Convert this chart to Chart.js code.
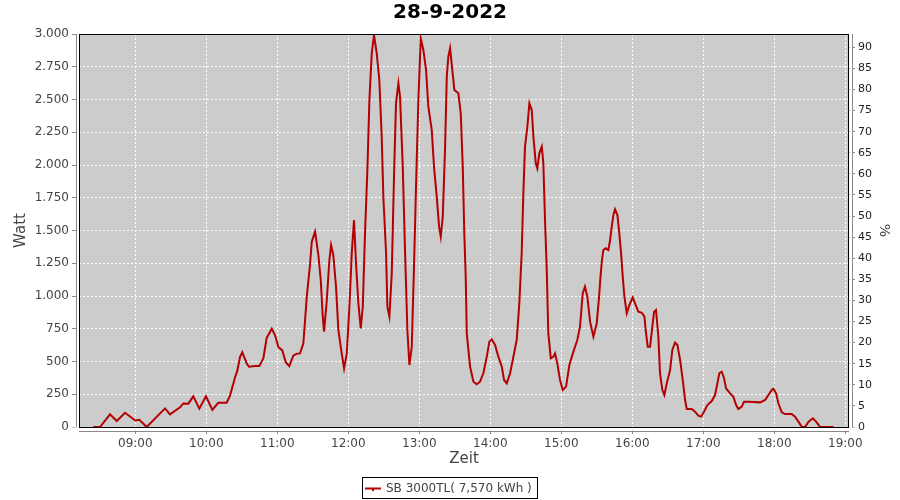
<!DOCTYPE html>
<html>
<head>
<meta charset="utf-8">
<script src="https://cdn.jsdelivr.net/npm/chart.js@4.4.1/dist/chart.umd.min.js"></script>
<style>
  html, body { margin: 0; padding: 0; background: #fff; }
  #wrap { width: 900px; height: 500px; }
</style>
</head>
<body>
<div id="wrap"><canvas id="myChart" width="900" height="500"></canvas></div>
<script>
// Daten: Uhrzeit (Minuten seit Mitternacht) und Leistung in Watt
var chartTitle = '28-9-2022';
var seriesName = 'SB 3000TL( 7,570 kWh )';

var minutes = [
  504.5, 510.2, 518.6, 524.3, 531.3, 540, 543.4, 549.6, 565.1, 569.3,
  577.8, 580.6, 584.8, 589, 594.1, 599.7, 605.1, 610.1, 617.2, 620,
  624.3, 626.2, 628.5, 630.4, 634.1, 636.1, 641.2, 644.8, 648.2, 651,
  655.3, 658.1, 660.9, 664.2, 667.1, 670.1, 673.5, 676.4, 679.2, 682,
  684.9, 687.6, 689.1, 691.9, 694.7, 696.7, 698.4, 699.5, 701.8, 704,
  705.4, 707.3, 709.6, 711.6, 714.4, 716.4, 718.7, 720.9, 722.9, 724.8,
  726.5, 728.5, 730.5, 732.2, 734.1, 736.1, 737.8, 739.8, 741.7, 744,
  746.2, 748.2, 749.6, 751.9, 753, 754.7, 756.7, 758.6, 760.3, 762.3,
  763.7, 766, 767.9, 769.9, 771.6, 773.6, 775.5, 777.2, 779.2, 781.2,
  783.4, 785.7, 787.6, 790.5, 792.4, 794.7, 796.7, 798.1, 799.8, 801.7,
  803.2, 804.5, 806, 807.9, 809.6, 813, 815, 816.7, 818, 819.2,
  820.1, 822.9, 825.7, 828.5, 831.3, 834.1, 837, 839.2, 841.2, 844,
  846.8, 849.7, 851.6, 853.9, 856.7, 859.5, 862.3, 864.5, 866.5, 867.9,
  869.3, 871.3, 873, 875, 876.4, 878.4, 879.7, 881.4, 883.5, 884.8,
  886.2, 887.7, 889, 891.1, 893.3, 894.7, 896.6, 898.9, 901.2, 904,
  906.8, 910.2, 913.5, 915.8, 918.1, 920, 922, 924.3, 927.1, 929.9,
  931.9, 933, 934.2, 935.5, 937.5, 939.7, 941.2, 942.6, 944, 945.4,
  947.4, 949, 950.5, 951.9, 953.3, 955.3, 957.5, 960.3, 962.3, 965.1,
  968, 970.2, 971.3, 973, 975, 976.9, 978.4, 980, 982, 983.4,
  985.4, 987.1, 989.1, 991.9, 993.8, 996.1, 998.1, 1000.4, 1002.6, 1004.6,
  1006, 1010.2, 1013, 1015.8, 1018.1, 1020.6, 1023.4, 1027.1, 1029.9, 1031.9,
  1033.5, 1035.5, 1037.5, 1039.2, 1042.6, 1045.4, 1047.7, 1049.6, 1052.5, 1054.4,
  1058.1, 1068, 1072.2, 1075, 1077.8, 1079.2, 1081.5, 1083.4, 1086.3, 1089.1,
  1094.7, 1097.5, 1100.3, 1103.2, 1106, 1108.8, 1112.5, 1115.3, 1118.7, 1130
];

var watts = [
  0, 0, 97, 46, 109, 50, 55, 0, 142, 97,
  150, 180, 178, 234, 140, 234, 130, 185, 185, 240,
  380, 430, 535, 570, 485, 460, 465, 465, 525, 680,
  750, 700, 610, 585, 495, 465, 545, 560, 562, 639,
  995, 1237, 1415, 1491, 1313, 1122, 842, 728, 969, 1275,
  1389, 1313, 1071, 740, 562, 447, 562, 918, 1326, 1580,
  1250, 944, 753, 918, 1478, 1962, 2496, 2852, 2992, 2852,
  2649, 2216, 1758, 1326, 918, 842, 1173, 1911, 2471, 2624,
  2522, 1987, 1351, 740, 473, 613, 1224, 1834, 2496, 2967,
  2878, 2725, 2445, 2267, 1987, 1758, 1529, 1453, 1605, 2115,
  2674, 2827, 2891, 2725, 2573, 2547, 2395, 1987, 1478, 1147,
  715, 460, 346, 326, 346, 410, 537, 651, 669, 626,
  537, 460, 359, 333, 410, 537, 664, 944, 1326, 1784,
  2140, 2292, 2471, 2420, 2216, 2013, 1975, 2089, 2140, 2013,
  1580, 1198, 715, 524, 537, 562, 486, 359, 282, 308,
  473, 575, 664, 766, 1021, 1071, 995, 804, 689, 790,
  995, 1135, 1262, 1351, 1364, 1351, 1427, 1529, 1618, 1662,
  1618, 1478, 1326, 1147, 995, 868, 931, 990, 944, 880,
  872, 842, 740, 613, 613, 766, 880, 893, 689, 410,
  282, 244, 333, 435, 588, 644, 626, 511, 359, 206,
  137, 137, 117, 86, 79, 117, 168, 198, 244, 333,
  410, 422, 372, 295, 257, 231, 168, 137, 155, 193,
  193, 188, 206, 244, 282, 292, 257, 181, 112, 99,
  99, 79, 41, 2, 0, 38, 66, 41, 0, 0
];

// Achsenbeschriftungen
var xTickLabels = ['09:00', '10:00', '11:00', '12:00', '13:00', '14:00', '15:00', '16:00', '17:00', '18:00', '19:00'];
var wattTicks = [0, 250, 500, 750, 1000, 1250, 1500, 1750, 2000, 2250, 2500, 2750, 3000];
var wattTickLabels = ['0', '250', '500', '750', '1.000', '1.250', '1.500', '1.750', '2.000', '2.250', '2.500', '2.750', '3.000'];
var percentTicks = [0, 5, 10, 15, 20, 25, 30, 35, 40, 45, 50, 55, 60, 65, 70, 75, 80, 85, 90];

var xTickMinutes = xTickLabels.map(function (s) {
  var p = s.split(':');
  return parseInt(p[0], 10) * 60 + parseInt(p[1], 10);
});

var points = minutes.map(function (m, i) { return { x: m, y: watts[i] }; });

Chart.defaults.font.family = "'DejaVu Sans', sans-serif";
Chart.defaults.font.size = 12;

// Hintergrund der Zeichenfläche
var plotBackground = {
  id: 'plotBackground',
  beforeDraw: function (chart) {
    var c = chart.ctx, a = chart.chartArea;
    c.save();
    c.fillStyle = '#ffffff';
    c.fillRect(0, 0, chart.width, chart.height);
    c.fillStyle = '#cccccc';
    c.fillRect(a.left, a.top, a.right - a.left, a.bottom - a.top);
    c.restore();
  }
};

// Rahmen, abgesetzte Achsenlinien und Legende
var frameAndLegend = {
  id: 'frameAndLegend',
  afterDraw: function (chart) {
    var c = chart.ctx, a = chart.chartArea;
    c.save();
    // Lücke zwischen Achsenlinie und Rahmen
    c.fillStyle = '#ffffff';
    c.fillRect(a.left - 3, a.top - 8, 3, a.bottom - a.top + 16);
    c.fillRect(a.right + 0.5, a.top - 8, 2.5, a.bottom - a.top + 16);
    c.fillRect(a.left - 8, a.bottom + 0.5, a.right - a.left + 16, 3);
    // Achsenlinien
    c.strokeStyle = '#888888';
    c.lineWidth = 1;
    c.beginPath();
    c.moveTo(a.left - 2.5, a.top); c.lineTo(a.left - 2.5, a.bottom);
    c.moveTo(a.right + 3.5, a.top); c.lineTo(a.right + 3.5, a.bottom);
    c.moveTo(a.left, a.bottom + 4.5); c.lineTo(a.right, a.bottom + 4.5);
    c.stroke();
    // Rahmen
    c.strokeStyle = '#000000';
    c.strokeRect(a.left + 0.5, a.top + 0.5, a.right - a.left - 1, a.bottom - a.top);
    // Legende
    c.strokeRect(362.5, 477.5, 175, 21);
    c.strokeStyle = 'rgb(180,0,0)';
    c.lineWidth = 2;
    c.beginPath();
    c.moveTo(365, 488.5); c.lineTo(381, 488.5);
    c.stroke();
    c.fillStyle = 'rgb(180,0,0)';
    c.fillRect(372, 488, 2, 3);
    c.fillStyle = '#444444';
    c.font = "12px 'DejaVu Sans', sans-serif";
    c.textBaseline = 'middle';
    c.textAlign = 'left';
    c.fillText(seriesName, 386, 488.5);
    c.restore();
  }
};

var ctx = document.getElementById('myChart');
var myChart = new Chart(ctx, {
  type: 'line',
  data: {
    datasets: [{
      label: seriesName,
      data: points,
      borderColor: 'rgb(180,0,0)',
      borderWidth: 2,
      pointRadius: 0,
      tension: 0,
      fill: false,
      yAxisID: 'y'
    }]
  },
  options: {
    responsive: false,
    animation: false,
    layout: { padding: { left: 0, right: 0, top: 0, bottom: 30 } },
    plugins: {
      legend: { display: false },
      tooltip: { enabled: false },
      title: {
        display: true,
        text: chartTitle,
        color: '#000',
        font: { size: 20, weight: 'bold' },
        padding: { top: 1, bottom: 9 }
      }
    },
    scales: {
      x: {
        type: 'linear',
        min: 492.4,
        max: 1143.1,
        afterBuildTicks: function (s) { s.ticks = xTickMinutes.map(function (v) { return { value: v }; }); },
        afterFit: function (s) { s.height = 43; },
        ticks: {
          autoSkip: false, maxRotation: 0, padding: 3, color: '#444',
          callback: function (v, i) { return xTickLabels[i]; }
        },
        grid: { color: '#ffffff', lineWidth: 1, tickColor: '#888', tickLength: 7 },
        border: { display: false, dash: [2, 2] },
        title: { display: true, text: 'Zeit', color: '#444', font: { size: 15 }, padding: { top: 0, bottom: 2 } }
      },
      y: {
        position: 'left',
        min: 0,
        max: 3000,
        afterBuildTicks: function (s) { s.ticks = wattTicks.map(function (v) { return { value: v }; }); },
        afterFit: function (s) { s.width = 79; },
        ticks: {
          padding: 3, color: '#444',
          callback: function (v, i) { return wattTickLabels[i]; }
        },
        grid: { color: '#ffffff', lineWidth: 1, tickColor: '#888', tickLength: 7 },
        border: { display: false, dash: [2, 2] },
        title: { display: true, text: 'Watt', color: '#444', font: { size: 15 }, padding: { top: 12, bottom: 0 } }
      },
      y1: {
        position: 'right',
        min: 0,
        max: 93.15,
        afterBuildTicks: function (s) { s.ticks = percentTicks.map(function (v) { return { value: v }; }); },
        afterFit: function (s) { s.width = 51; },
        ticks: { padding: 3, color: '#222', font: { size: 11 } },
        grid: { drawOnChartArea: false, tickColor: '#888', tickLength: 6 },
        border: { display: false },
        title: { display: true, text: '%', color: '#444', font: { size: 14 }, padding: { top: 8, bottom: 0 } }
      }
    }
  },
  plugins: [plotBackground, frameAndLegend]
});
</script>
</body>
</html>
